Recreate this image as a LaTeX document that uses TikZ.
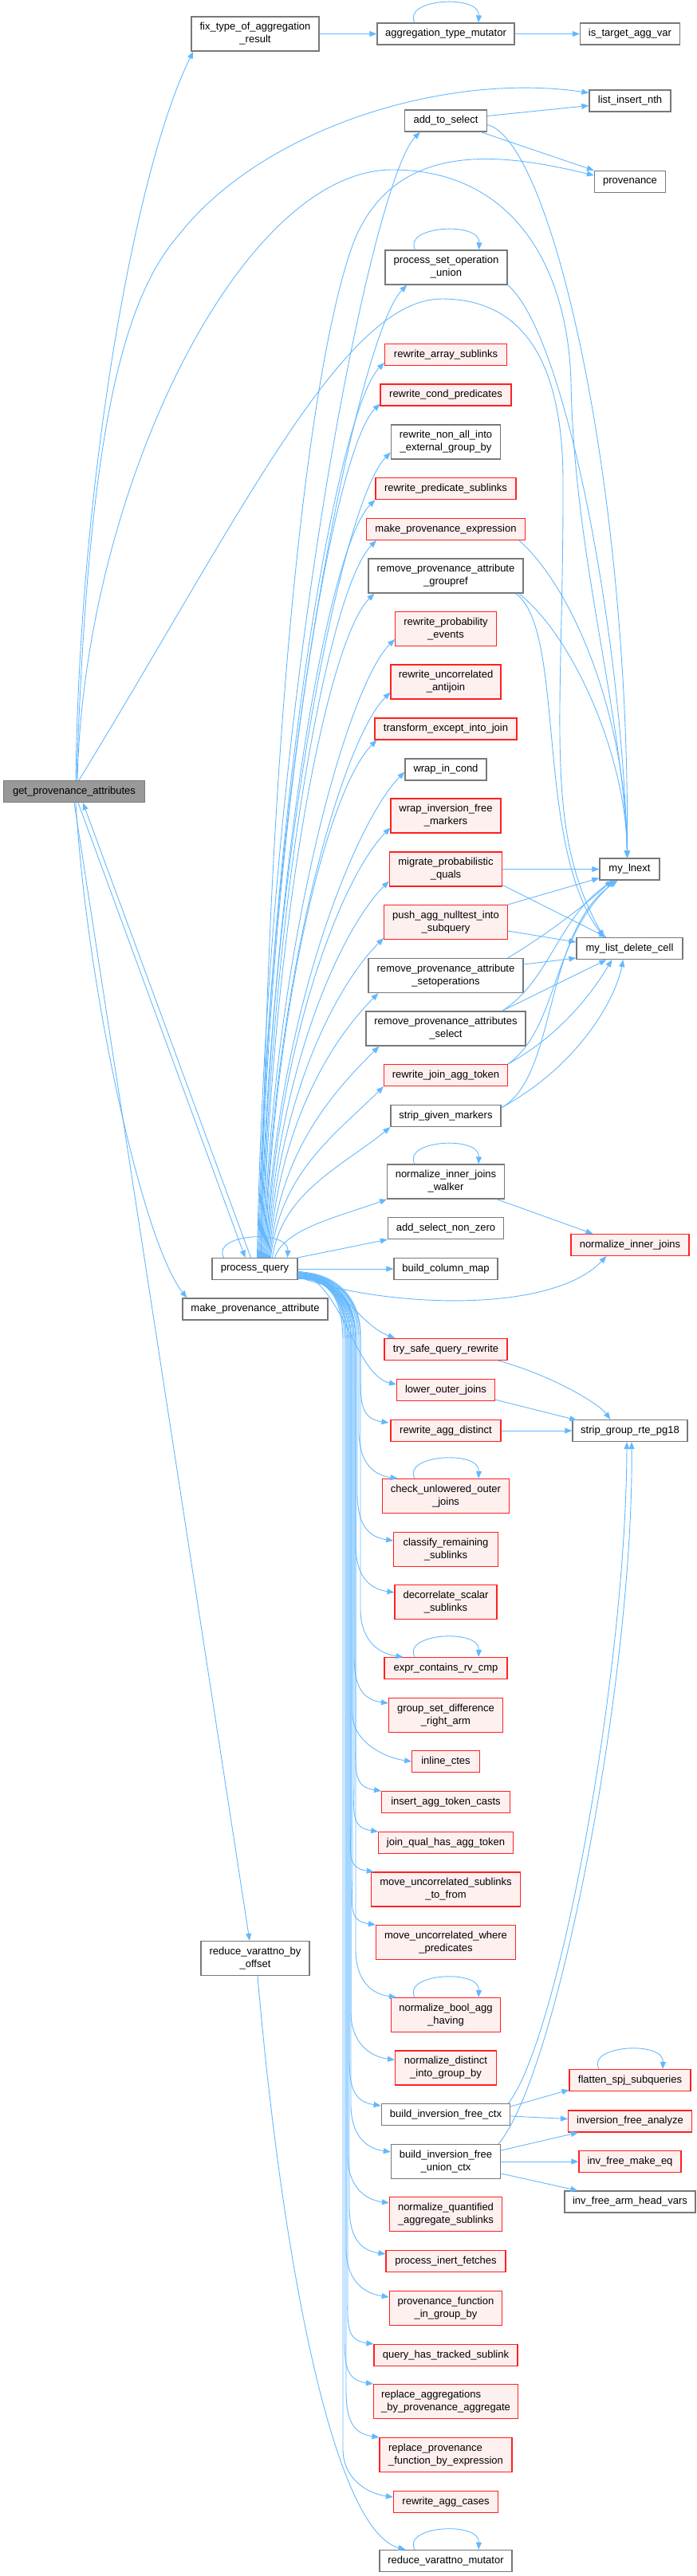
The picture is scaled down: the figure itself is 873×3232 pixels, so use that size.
\documentclass[tikz,border=0pt]{standalone}
\usepackage{fontspec}
\setmainfont{Liberation Sans}
\usetikzlibrary{arrows.meta,calc}
\definecolor{edgeblue}{HTML}{63B8FF}
\definecolor{nodegray}{HTML}{787878}
\definecolor{redfill}{HTML}{FFF0F0}
\definecolor{rootfill}{HTML}{999999}
\definecolor{redline}{HTML}{FF2020}
\tikzset{
  cedge/.style={draw=edgeblue, line width=0.9pt, -{Triangle[length=9pt,width=7pt]}},
  nb/.style={draw=nodegray, fill=white, line width=1.3pt, inner sep=0pt, minimum height=27pt, align=center, font=\fontsize{13}{16}\selectfont},
  rb/.style={nb, draw=redline, fill=redfill, line width=1.1pt},
  gb/.style={nb, fill=rootfill},
  twol/.style={minimum height=43pt},
}
\newcommand\selfloop[1]{\draw[cedge] ($(#1.north)+(-39,0)$) .. controls ($(#1.north)+(-55,-30)$) and ($(#1.north)+(43,-36)$) .. ($(#1.north)+(41,0)$);}
\newcommand\upe[2]{%
  \draw[cedge] let \p1=($(pq.north)+(#1,0)$), \p2=(#2), \n1={\y2-\y1}, \n2={min(60,0.3*\n1)} in
  (\p1) .. controls (\x1+12pt,\y1+0.5*\n1) and (\x2-60pt,\y2-\n2) .. (\p2);}
\newcommand\dne[3]{%
  \draw[cedge] let \p1=($(pq.east)+(0,#1)$), \p2=(#3) in
  (\p1) .. controls (\x1+40pt,\y1) and (#2pt,\y1-25pt) .. (#2pt,\y1-80pt)
  -- (#2pt,\y2+60pt) .. controls (#2pt,\y2+25pt) and (\x2-35pt,\y2+5pt) .. (\p2);}
\begin{document}
\begin{tikzpicture}[x=1pt,y=-1pt]
\useasboundingbox (0,0) rectangle (873,3232);
% nodes
\node[nb,twol,minimum width=160pt] (fix) at (320,42.5) {fix\_type\_of\_aggregation\\\_result};
\node[nb,minimum width=172pt] (aggmut) at (559,42.5) {aggregation\_type\_mutator};
\node[nb,minimum width=125pt] (istarget) at (790,42.5) {is\_target\_agg\_var};
\node[nb,minimum width=102pt] (lin) at (790,126.5) {list\_insert\_nth};
\node[nb,minimum width=103pt] (ats) at (559,151.5) {add\_to\_select};
\node[nb,minimum width=89pt] (prov) at (790,228) {provenance};
\node[nb,twol,minimum width=153pt] (psou) at (559.5,335.5) {process\_set\_operation\\\_union};
\node[rb,minimum width=153pt] (ras) at (559,445) {rewrite\_array\_sublinks};
\node[rb,minimum width=164pt] (rcp) at (559,495.5) {rewrite\_cond\_predicates};
\node[nb,twol,minimum width=137pt] (rnai) at (559,554.5) {rewrite\_non\_all\_into\\\_external\_group\_by};
\node[rb,minimum width=176pt] (rps) at (559,613) {rewrite\_predicate\_sublinks};
\node[rb,minimum width=199pt] (mpe) at (559,664) {make\_provenance\_expression};
\node[nb,twol,minimum width=194pt] (rpag) at (559,722.5) {remove\_provenance\_attribute\\\_groupref};
\node[rb,twol,minimum width=127pt] (rpe) at (559,789) {rewrite\_probability\\\_events};
\node[rb,twol,minimum width=138pt] (rua) at (559,855.5) {rewrite\_uncorrelated\\\_antijoin};
\node[rb,minimum width=178pt] (teij) at (559,914.5) {transform\_except\_into\_join};
\node[nb,minimum width=102pt] (wic) at (559,965.5) {wrap\_in\_cond};
\node[gb,minimum width=176.5pt] (gpa) at (93,993) {get\_provenance\_attributes};
\node[rb,twol,minimum width=138pt] (wifm) at (559,1023.5) {wrap\_inversion\_free\\\_markers};
\node[rb,twol,minimum width=141.5pt] (mpq) at (559,1090.5) {migrate\_probabilistic\\\_quals};
\node[nb,minimum width=75pt] (lnext) at (789.5,1090.5) {my\_lnext};
\node[rb,twol,minimum width=155pt] (pan) at (559,1157) {push\_agg\_nulltest\_into\\\_subquery};
\node[nb,minimum width=133pt] (mldc) at (789.5,1190) {my\_list\_delete\_cell};
\node[nb,twol,minimum width=194pt] (rpas) at (559,1224) {remove\_provenance\_attribute\\\_setoperations};
\node[nb,twol,minimum width=200pt] (rpasel) at (559,1290.5) {remove\_provenance\_attributes\\\_select};
\node[rb,minimum width=155pt] (rjat) at (559,1349) {rewrite\_join\_agg\_token};
\node[nb,minimum width=138pt] (sgm) at (559,1400) {strip\_given\_markers};
\node[nb,twol,minimum width=146.6pt] (nijw) at (559,1482.5) {normalize\_inner\_joins\\\_walker};
\node[nb,minimum width=145pt] (asnz) at (559,1541) {add\_select\_non\_zero};
\node[rb,minimum width=148pt] (nij) at (790,1562) {normalize\_inner\_joins};
\node[nb,minimum width=130pt] (bcm) at (559,1592) {build\_column\_map};
\node[nb,minimum width=107pt] (pq) at (319.5,1592) {process\_query};
\node[nb,minimum width=182pt] (mpa) at (320,1642.5) {make\_provenance\_attribute};
\node[rb,minimum width=154pt] (tsqr) at (559,1693) {try\_safe\_query\_rewrite};
\node[rb,minimum width=123pt] (loj) at (559,1744) {lower\_outer\_joins};
\node[rb,minimum width=138pt] (rad) at (559,1795) {rewrite\_agg\_distinct};
\node[nb,minimum width=144pt] (sgr) at (790,1795) {strip\_group\_rte\_pg18};
\node[rb,twol,minimum width=159.5pt] (cuoj) at (559,1877) {check\_unlowered\_outer\\\_joins};
\node[rb,twol,minimum width=130.5pt] (crs) at (559,1944) {classify\_remaining\\\_sublinks};
\node[rb,twol,minimum width=128pt] (dss) at (559,2010) {decorrelate\_scalar\\\_sublinks};
\node[rb,minimum width=154pt] (ecrc) at (559,2093) {expr\_contains\_rv\_cmp};
\node[rb,twol,minimum width=143pt] (gsdra) at (559,2152) {group\_set\_difference\\\_right\_arm};
\node[rb,minimum width=84.5pt] (ic) at (559,2210) {inline\_ctes};
\node[rb,minimum width=160.5pt] (iatc) at (559,2261) {insert\_agg\_token\_casts};
\node[rb,minimum width=168.5pt] (jqhat) at (559,2312) {join\_qual\_has\_agg\_token};
\node[rb,twol,minimum width=187.5pt] (musf) at (559,2370.5) {move\_uncorrelated\_sublinks\\\_to\_from};
\node[rb,twol,minimum width=175pt] (muwp) at (559,2437) {move\_uncorrelated\_where\\\_predicates};
\node[nb,twol,minimum width=136pt] (rvbo) at (320,2457) {reduce\_varattno\_by\\\_offset};
\node[rb,twol,minimum width=137pt] (nbah) at (559,2528) {normalize\_bool\_agg\\\_having};
\node[rb,twol,minimum width=127pt] (ndig) at (559,2594.5) {normalize\_distinct\\\_into\_group\_by};
\node[rb,minimum width=152pt] (fss) at (790,2610) {flatten\_spj\_subqueries};
\node[nb,minimum width=161.5pt] (bifc) at (559,2653) {build\_inversion\_free\_ctx};
\node[rb,minimum width=155pt] (ifa) at (790,2661.5) {inversion\_free\_analyze};
\node[nb,twol,minimum width=137pt] (bifuc) at (559,2712) {build\_inversion\_free\\\_union\_ctx};
\node[rb,minimum width=128pt] (ifme) at (790,2712) {inv\_free\_make\_eq};
\node[nb,minimum width=164pt] (ifahv) at (790,2762.5) {inv\_free\_arm\_head\_vars};
\node[rb,twol,minimum width=141pt] (nqas) at (559,2778) {normalize\_quantified\\\_aggregate\_sublinks};
\node[rb,minimum width=150pt] (pif) at (559,2837) {process\_inert\_fetches};
\node[rb,twol,minimum width=141.5pt] (pfigb) at (559,2896) {provenance\_function\\\_in\_group\_by};
\node[rb,minimum width=180pt] (qhts) at (559,2955) {query\_has\_tracked\_sublink};
\node[rb,twol,minimum width=181pt,align=left] (rabpa) at (559,3013) {replace\_aggregations\\\_by\_provenance\_aggregate};
\node[rb,twol,minimum width=166pt,align=left] (rpfbe) at (559,3080) {replace\_provenance\\\_function\_by\_expression};
\node[rb,minimum width=131pt] (rac) at (559,3139) {rewrite\_agg\_cases};
\node[nb,minimum width=166pt] (rvm) at (559,3213) {reduce\_varattno\_mutator};
% top group
\draw[cedge] (fix.east) -- (aggmut.west);
\draw[cedge] (aggmut.east) -- (istarget.west);
\selfloop{aggmut}
% get_provenance_attributes
\draw[cedge] ($(gpa.north)+(2,0)$) .. controls (100,600) and (170,210) .. ($(fix.south west)+(3,0)$);
\draw[cedge] ($(gpa.north)+(3,0)$) .. controls (110,560) and (150,380) .. (224,295) .. controls (330,160) and (560,90) .. ($(lin.west)+(0,-10)$);
\draw[cedge] ($(gpa.north)+(4,0)$) .. controls (105,620) and (300,213) .. (492,213) .. controls (640,213) and (712,330) .. (716,480) .. controls (720,700) and (782,900) .. ($(lnext.north)+(-3,0)$);
\draw[cedge] ($(gpa.north)+(6,0)$) .. controls (300,650) and (430,375) .. (554,375) .. controls (660,375) and (705,460) .. (706,600) .. controls (707,900) and (680,1040) .. ($(mldc.north west)+(35,0)$);
\draw[cedge] ($(gpa.south)+(5,0)$) -- ($(pq.north)+(-12,0)$);
\draw[cedge] ($(pq.north)+(-5,0)$) -- ($(gpa.south)+(11,0)$);
\draw[cedge] ($(gpa.south)+(2,0)$) .. controls (110,1250) and (180,1560) .. ($(mpa.north west)+(6,0)$);
\draw[cedge] (gpa.south) -- ($(rvbo.north)+(-7,0)$);
\draw[cedge] ($(rvbo.south)+(3,0)$) .. controls (355,2850) and (420,3175) .. ($(rvm.north west)+(33,0)$);
\selfloop{rvm}
% add_to_select etc
\draw[cedge] ($(ats.east)+(0,-6)$) -- ($(lin.west)+(0,6)$);
\draw[cedge] ($(ats.south east)+(-8,0)$) -- (prov.north west);
\draw[cedge] ($(ats.east)+(0,5)$) .. controls (690,175) and (790,600) .. ($(lnext.north)+(-3,0)$);
\selfloop{psou}
\draw[cedge] (psou.south east) .. controls (710,420) and (780,800) .. ($(lnext.north)+(-3,0)$);
\draw[cedge] ($(mpe.south east)+(-8,0)$) .. controls (720,740) and (785,900) .. ($(lnext.north)+(-3,0)$);
\draw[cedge] ($(rpag.south east)+(-6,0)$) .. controls (720,800) and (785,950) .. ($(lnext.north)+(-3,0)$);
\draw[cedge] ($(rpag.south east)+(-10,0)$) .. controls (710,790) and (670,1060) .. ($(mldc.north west)+(35,0)$);
\draw[cedge] (mpq.east) -- (lnext.west);
\draw[cedge] ($(mpq.south east)+(0,-2)$) -- ($(mldc.north west)+(38,0)$);
\draw[cedge] (pan.north east) -- ($(lnext.south west)+(0,-3)$);
\draw[cedge] ($(pan.east)+(0,11)$) -- ($(mldc.west)+(0,-8)$);
\draw[cedge] ($(rpas.north east)+(-20,0)$) .. controls (690,1170) and (740,1130) .. ($(lnext.south)+(-22,0)$);
\draw[cedge] ($(rpas.east)+(0,-14)$) -- ($(mldc.west)+(0,12)$);
\draw[cedge] ($(rpasel.north east)+(-30,0)$) .. controls (690,1230) and (700,1150) .. ($(lnext.south)+(-20,0)$);
\draw[cedge] ($(rpasel.north east)+(-30,0)$) -- ($(mldc.south west)+(38,0)$);
\draw[cedge] (rjat.north east) .. controls (700,1290) and (690,1180) .. ($(lnext.south)+(-18,0)$);
\draw[cedge] (rjat.north east) .. controls (700,1300) and (740,1250) .. ($(mldc.south west)+(45,0)$);
\draw[cedge] ($(sgm.north east)+(0,4)$) .. controls (700,1350) and (680,1170) .. ($(lnext.south)+(-15,0)$);
\draw[cedge] ($(sgm.north east)+(0,4)$) .. controls (720,1340) and (770,1260) .. ($(mldc.south)+(-8,0)$);
\selfloop{nijw}
\draw[cedge] ($(nijw.south east)+(-10,0)$) -- ($(nij.north west)+(28,0)$);
% process_query
\selfloop{pq}
\draw[cedge] ($(pq.north)+(8,0)$) .. controls (335,900) and (390,440) .. (445,300) .. controls (500,170) and (640,195) .. ($(prov.west)+(0,-8)$);
\upe{3}{$(ats.south west)+(20,0)$}
\upe{4}{$(psou.south west)+(28,0)$}
\upe{5}{$(ras.south west)+(0,-4)$}
\upe{6}{$(rcp.south west)+(0,-3)$}
\upe{7}{$(rnai.south west)+(0,-9)$}
\upe{8}{rps.south west}
\upe{9}{$(mpe.south west)+(13,0)$}
\upe{10}{$(rpag.south west)+(8,0)$}
\upe{11}{$(rpe.south west)+(0,-9)$}
\upe{12}{$(rua.south west)+(0,-9)$}
\upe{13}{$(teij.south west)+(3,0)$}
\upe{14}{$(wic.west)+(0,3)$}
\upe{15}{$(wifm.south west)+(0,-7)$}
\upe{16}{$(mpq.south west)+(0,-7)$}
\upe{17}{$(pan.south west)+(0,-2)$}
\upe{18}{$(rpas.south west)+(13,0)$}
\upe{19}{$(rpasel.south west)+(17,0)$}
\upe{20}{rjat.south west}
\upe{22}{sgm.south west}
\upe{25}{nijw.south west}
\draw[cedge] (pq.north east) -- (asnz.south west);
\draw[cedge] (pq.east) -- (bcm.west);
\draw[cedge] ($(pq.east)+(0,10)$) .. controls (480,1640) and (690,1650) .. ($(nij.south west)+(45,0)$);
\draw[cedge] ($(pq.east)+(0,3)$) .. controls (420,1600) and (450,1662) .. ($(tsqr.north west)+(14,0)$);
\draw[cedge] ($(pq.east)+(0,4)$) .. controls (430,1610) and (445,1725) .. ($(loj.west)+(0,-7)$);
\dne{4}{452}{$(rad.north west)+(-2,4)$}
\dne{5}{450}{$(cuoj.north west)+(20,0)$}
\dne{5}{448}{$(crs.north west)+(0,11)$}
\dne{6}{446}{$(dss.north west)+(0,10)$}
\dne{6}{452}{$(ecrc.north west)+(24,0)$}
\dne{7}{444}{$(gsdra.north west)+(0,7)$}
\dne{7}{442}{ic.west}
\dne{8}{446}{iatc.north west}
\dne{8}{444}{jqhat.north west}
\dne{9}{440}{$(musf.north west)+(4,0)$}
\dne{9}{442}{muwp.north west}
\dne{9}{446}{$(nbah.north west)+(7,0)$}
\dne{10}{440}{$(ndig.north west)+(0,12)$}
\dne{10}{438}{$(bifc.north west)+(0,3)$}
\dne{10}{440}{$(bifuc.north west)+(0,10)$}
\dne{11}{436}{$(nqas.north west)+(0,8)$}
\dne{11}{438}{$(pif.north west)+(0,5)$}
\dne{11}{434}{$(pfigb.north west)+(0,8)$}
\dne{12}{436}{qhts.north west}
\dne{12}{432}{rabpa.north west}
\dne{12}{434}{rpfbe.north west}
\dne{12}{430}{$(rac.north west)+(0,8)$}
\selfloop{cuoj}
\selfloop{ecrc}
\selfloop{nbah}
\selfloop{fss}
% strip_group_rte_pg18
\draw[cedge] ($(tsqr.south east)+(-12,0)$) .. controls (690,1725) and (750,1760) .. ($(sgr.north west)+(48,0)$);
\draw[cedge] ($(loj.south east)+(0,-2)$) -- ($(sgr.north west)+(6,1)$);
\draw[cedge] (rad.east) -- (sgr.west);
\draw[cedge] ($(bifc.north east)+(-3,0)$) .. controls (700,2560) and (785,2100) .. ($(sgr.south)+(-4,0)$);
\draw[cedge] ($(bifuc.north east)+(-3,0)$) .. controls (700,2600) and (795,2100) .. ($(sgr.south)+(2,0)$);
% inversion free
\draw[cedge] ($(bifc.north east)+(0,4)$) -- ($(fss.south west)+(0,-2)$);
\draw[cedge] ($(bifc.east)+(0,2)$) -- ($(ifa.west)+(0,-3)$);
\draw[cedge] ($(bifuc.east)+(0,-14)$) -- ($(ifa.south west)+(13,0)$);
\draw[cedge] (bifuc.east) -- (ifme.west);
\draw[cedge] ($(bifuc.east)+(0,15)$) -- ($(ifahv.north west)+(17,0)$);
\end{tikzpicture}
\end{document}
